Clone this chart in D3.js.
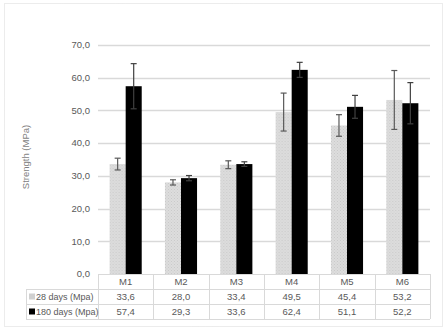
<!DOCTYPE html>
<html>
<head>
<meta charset="utf-8">
<script src="https://cdn.jsdelivr.net/npm/d3@7"></script>
<style>
  body { margin: 0; background: #fff; }
  svg text { font-family: "Liberation Sans", Arial, sans-serif; fill: #595959; }
</style>
</head>
<body>
<div id="chart"></div>
<script>
// data
var categories = ["M1", "M2", "M3", "M4", "M5", "M6"];
var seriesNames = ["28 days (Mpa)", "180 days (Mpa)"];
var days28 = [33.6, 28.0, 33.4, 49.5, 45.4, 53.2];
var days180 = [57.4, 29.3, 33.6, 62.4, 51.1, 52.2];
var err28 = [1.8, 0.8, 1.2, 5.8, 3.3, 9.0];
var err180 = [6.9, 0.8, 0.7, 2.3, 3.5, 6.3];
var yTicks = [0, 10, 20, 30, 40, 50, 60, 70];

var W = 447, H = 331;
var margin = {top: 45, right: 17, bottom: 57, left: 98},
    width = W - margin.left - margin.right,
    height = H - margin.top - margin.bottom;

var svg = d3.select("#chart").append("svg")
    .attr("width", W)
    .attr("height", H);

// dotted fill for the 28 days bars
var defs = svg.append("defs");
var pat = defs.append("pattern")
    .attr("id", "dots")
    .attr("width", 3).attr("height", 3)
    .attr("patternUnits", "userSpaceOnUse");
pat.append("rect").attr("width", 3).attr("height", 3).attr("fill", "#dddddd");
pat.append("rect").attr("width", 1).attr("height", 1).attr("fill", "#c9c9c9");
pat.append("rect").attr("x", 1.5).attr("y", 1.5).attr("width", 1).attr("height", 1).attr("fill", "#cfcfcf");

// outer chart border
svg.append("rect")
    .attr("x", 4.5).attr("y", 3.5)
    .attr("width", 438).attr("height", 323)
    .attr("fill", "none")
    .attr("stroke", "#d9d9d9")
    .attr("stroke-dasharray", "1,1");

var g = svg.append("g")
    .attr("transform", "translate(" + margin.left + "," + margin.top + ")");

var x = d3.scaleBand()
    .domain(categories)
    .range([0, width])
    .paddingInner(0.42)
    .paddingOuter(0.21);

var x1 = d3.scaleBand()
    .domain([0, 1])
    .range([0, x.bandwidth()]);

var y = d3.scaleLinear()
    .domain([0, 70])
    .range([height, 0]);

// gridlines
g.append("g")
  .selectAll("line")
  .data(yTicks.filter(function(d) { return d > 0; }))
  .enter().append("line")
    .attr("x1", 0).attr("x2", width)
    .attr("y1", function(d) { return Math.round(y(d)) + 0.5; })
    .attr("y2", function(d) { return Math.round(y(d)) + 0.5; })
    .attr("stroke", "#d9d9d9")
    .attr("stroke-width", 1.5);

// y tick labels
g.append("g")
  .selectAll("text")
  .data(yTicks)
  .enter().append("text")
    .attr("x", -8)
    .attr("y", function(d) { return y(d); })
    .attr("dy", "0.35em")
    .attr("text-anchor", "end")
    .style("font-size", "9.5px")
    .text(function(d) { return d3.format(".1f")(d).replace(".", ","); });

svg.append("text")
    .attr("transform", "translate(29,157) rotate(-90)")
    .attr("text-anchor", "middle")
    .style("font-size", "9.5px")
    .style("fill", "#7f7f7f")
    .text("Strength (MPa)");

var rows = categories.map(function(c, i) {
  return {cat: c, vals: [days28[i], days180[i]], errs: [err28[i], err180[i]]};
});

var groups = g.selectAll(".grp")
    .data(rows)
  .enter().append("g")
    .attr("class", "grp")
    .attr("transform", function(d) { return "translate(" + x(d.cat) + ",0)"; });

groups.selectAll("rect")
    .data(function(d) { return d.vals; })
  .enter().append("rect")
    .attr("x", function(d, i) { return x1(i); })
    .attr("y", function(d) { return y(d); })
    .attr("width", x1.bandwidth())
    .attr("height", function(d) { return height - y(d); })
    .attr("fill", function(d, i) { return i === 0 ? "url(#dots)" : "#000"; });

// error bars
var eb = groups.selectAll(".err")
    .data(function(d) { return d.vals.map(function(v, i) { return {v: v, e: d.errs[i], i: i}; }); })
  .enter().append("g")
    .attr("class", "err")
    .attr("stroke", function(d) { return d.i === 0 ? "#595959" : "#404040"; })
    .attr("stroke-width", 1.2);

eb.append("line")
    .attr("x1", function(d) { return x1(d.i) + x1.bandwidth() / 2; })
    .attr("x2", function(d) { return x1(d.i) + x1.bandwidth() / 2; })
    .attr("y1", function(d) { return y(d.v + d.e); })
    .attr("y2", function(d) { return y(d.v - d.e); });
[1, -1].forEach(function(s) {
  eb.append("line")
    .attr("x1", function(d) { return x1(d.i) + x1.bandwidth() / 2 - 3; })
    .attr("x2", function(d) { return x1(d.i) + x1.bandwidth() / 2 + 3; })
    .attr("y1", function(d) { return y(d.v + s * d.e); })
    .attr("y2", function(d) { return y(d.v + s * d.e); });
});

// data table under the axis
var rowH = 15, tableLeft = 26 - margin.left;
var tbl = g.append("g").attr("transform", "translate(0," + height + ")");
var lineCol = "#d9d9d9";

// horizontal lines
[0, 1, 2, 3].forEach(function(r) {
  tbl.append("line")
    .attr("x1", r === 0 ? 0 : tableLeft).attr("x2", width)
    .attr("y1", r * rowH + 0.5).attr("y2", r * rowH + 0.5)
    .attr("stroke", lineCol);
});
// vertical lines
var colEdges = categories.map(function(c, i) { return i * width / categories.length; }).concat([width]);
colEdges.forEach(function(cx) {
  tbl.append("line")
    .attr("x1", Math.round(cx) + 0.5).attr("x2", Math.round(cx) + 0.5)
    .attr("y1", 0).attr("y2", 3 * rowH)
    .attr("stroke", lineCol);
});
tbl.append("line")
    .attr("x1", tableLeft + 0.5).attr("x2", tableLeft + 0.5)
    .attr("y1", rowH).attr("y2", 3 * rowH)
    .attr("stroke", lineCol);

tbl.selectAll(".hdr")
    .data(categories)
  .enter().append("text")
    .attr("x", function(d) { return x(d) + x.bandwidth() / 2; })
    .attr("y", rowH / 2)
    .attr("dy", "0.35em")
    .attr("text-anchor", "middle")
    .style("font-size", "9.5px")
    .text(function(d) { return d; });

[days28, days180].forEach(function(vals, r) {
  tbl.selectAll(".v" + r)
      .data(vals)
    .enter().append("text")
      .attr("x", function(d, i) { return x(categories[i]) + x.bandwidth() / 2; })
      .attr("y", (r + 1.5) * rowH)
      .attr("dy", "0.35em")
      .attr("text-anchor", "middle")
      .style("font-size", "9.5px")
      .text(function(d) { return d3.format(".1f")(d).replace(".", ","); });

  tbl.append("rect")
      .attr("x", tableLeft + 3).attr("y", (r + 1.5) * rowH - 3)
      .attr("width", 6).attr("height", 6)
      .attr("fill", r === 0 ? "#d0d0d0" : "#000");
  tbl.append("text")
      .attr("x", tableLeft + 10)
      .attr("y", (r + 1.5) * rowH)
      .attr("dy", "0.35em")
      .style("font-size", "9px")
      .text(seriesNames[r]);
});
</script>
</body>
</html>
